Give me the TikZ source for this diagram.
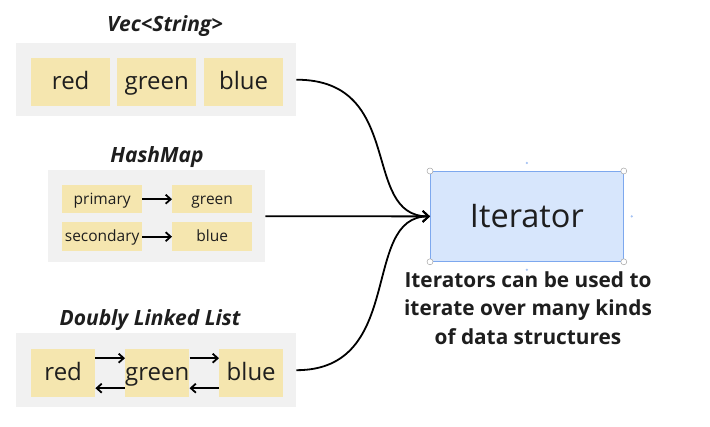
\documentclass[tikz,border=0pt]{standalone}
\usepackage{fontspec}
\setmainfont{Open Sans}
\usetikzlibrary{arrows.meta}
\definecolor{grp}{RGB}{241,241,241}
\definecolor{yel}{RGB}{245,230,175}
\definecolor{itfill}{RGB}{215,230,252}
\definecolor{itdraw}{RGB}{125,168,238}
\definecolor{txt}{RGB}{30,30,30}
\tikzset{
  grpbox/.style={fill=grp, draw=none},
  cell/.style={fill=yel, draw=none, inner sep=0pt, text=txt},
  bigtxt/.style={font=\fontsize{24}{28}\selectfont, text height=17.5pt, text depth=2.5pt},
  smalltxt/.style={font=\fontsize{15.5}{18}\selectfont, text height=12pt, text depth=1.5pt},
  title/.style={font=\bfseries\itshape\fontsize{21}{25}\selectfont, text=txt},
  conn/.style={line width=1.8pt, -{Straight Barb[length=6pt,width=11pt,line width=1.8pt]}},
  link/.style={line width=1.8pt, -{Straight Barb[length=5pt,width=9pt,line width=1.8pt]}},
  handle/.style={circle, draw=gray!70, fill=white, line width=0.5pt, inner sep=0pt, minimum size=6pt},
  hdot/.style={circle, fill=itdraw!70, inner sep=0pt, minimum size=2.5pt}
}
\begin{document}
\begin{tikzpicture}[x=1pt,y=-1pt]
\useasboundingbox (0,0) rectangle (710,427);
% Vec<String>
\node[title] (vtitle) at (165,26) {Vec<String>};
\node[grpbox, minimum width=280pt, minimum height=73pt, anchor=north west] (vgrp) at (16,43) {};
\node[cell, bigtxt, minimum width=79pt, minimum height=48pt, anchor=north west] (vred) at (31,58) {red};
\node[cell, bigtxt, minimum width=79pt, minimum height=48pt, anchor=north west] (vgreen) at (117,58) {green};
\node[cell, bigtxt, minimum width=79pt, minimum height=48pt, anchor=north west] (vblue) at (204,58) {blue};
% HashMap
\node[title] (htitle) at (157,157) {HashMap};
\node[grpbox, minimum width=217pt, minimum height=92pt, anchor=north west] (hgrp) at (48,170) {};
\node[cell, smalltxt, minimum width=80pt, minimum height=28pt, anchor=north west] (hk1) at (62,185) {primary};
\node[cell, smalltxt, minimum width=80pt, minimum height=28pt, anchor=north west] (hv1) at (172,185) {green};
\node[cell, smalltxt, minimum width=80pt, minimum height=29pt, anchor=north west] (hk2) at (62,222) {secondary};
\node[cell, smalltxt, minimum width=80pt, minimum height=29pt, anchor=north west] (hv2) at (172,222) {blue};
\draw[link] (hk1.east) -- (hv1.west);
\draw[link] (hk2.east) -- (hv2.west);
% Doubly Linked List
\node[title] (dtitle) at (150,320) {Doubly Linked List};
\node[grpbox, minimum width=280pt, minimum height=74pt, anchor=north west] (dgrp) at (16,333) {};
\node[cell, bigtxt, minimum width=64pt, minimum height=48pt, anchor=north west] (dred) at (31,349) {red};
\node[cell, bigtxt, minimum width=64pt, minimum height=48pt, anchor=north west] (dgreen) at (125,349) {green};
\node[cell, bigtxt, minimum width=64pt, minimum height=48pt, anchor=north west] (dblue) at (219,349) {blue};
\draw[link] ([yshift=15pt]dred.east) -- ([yshift=15pt]dgreen.west);
\draw[link] ([yshift=15pt]dgreen.east) -- ([yshift=15pt]dblue.west);
\draw[link] ([yshift=-15pt]dgreen.west) -- ([yshift=-15pt]dred.east);
\draw[link] ([yshift=-15pt]dblue.west) -- ([yshift=-15pt]dgreen.east);
% Iterator
\node[fill=itfill, draw=itdraw, line width=0.8pt, minimum width=193pt, minimum height=90pt, anchor=north west,
      font=\fontsize{32.5}{38}\selectfont, text=txt] (iter) at (430,171) {Iterator};
\foreach \c in {north west, north east, south west, south east}
  \node[handle] at (iter.\c) {};
\node[hdot] (d1) at ([yshift=8pt]iter.north) {};
\node[hdot] (d2) at ([xshift=8pt]iter.east) {};
\node[hdot] (d3) at ([yshift=-8pt]iter.south) {};
\node[font=\bfseries\fontsize{20.8}{28.5}\selectfont, align=center, text=txt, anchor=north] (cap) at (528,268)
  {Iterators can be used to\\iterate over many kinds\\of data structures};
% connectors
\draw[conn] (vgrp.east) .. controls +(110,0) and +(-70,0) .. (iter.west);
\draw[conn] (hgrp.east) -- (iter.west);
\draw[conn] (dgrp.east) .. controls +(110,0) and +(-70,0) .. (iter.west);
\end{tikzpicture}
\end{document}
